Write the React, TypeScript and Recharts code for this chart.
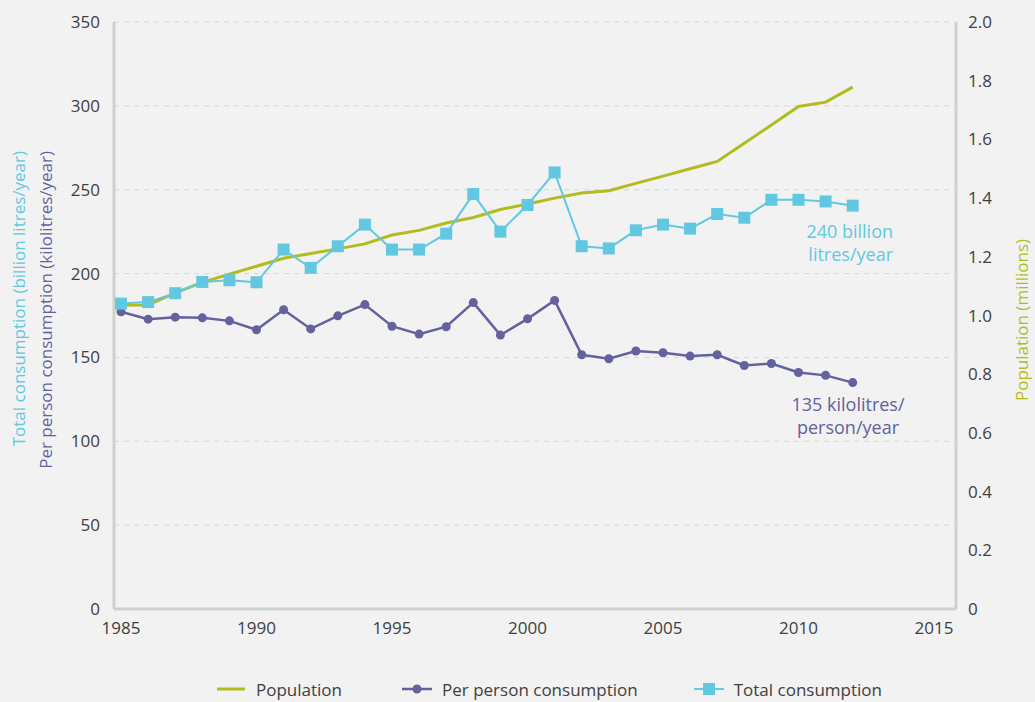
import { LineChart, Line, XAxis, YAxis, CartesianGrid, Legend } from 'recharts';

const years = [
    1985, 1986, 1987, 1988, 1989, 1990, 1991, 1992, 1993, 1994, 1995, 1996, 1997, 1998,
    1999, 2000, 2001, 2002, 2003, 2004, 2005, 2006, 2007, 2008, 2009, 2010, 2011, 2012,
];

// millions of people
const population = [
    1.035, 1.036, 1.077, 1.113, 1.141, 1.168, 1.195, 1.211, 1.227, 1.244, 1.274, 1.29, 1.315, 1.334,
    1.361, 1.38, 1.4, 1.417, 1.425, 1.45, 1.475, 1.5, 1.525, 1.587, 1.649, 1.712, 1.727, 1.778,
];

// kilolitres per person per year
const perPerson = [
    177.2, 172.8, 174, 173.6, 171.8, 166.5, 178.4, 167, 174.8, 181.5, 168.6, 163.9, 168.3, 182.7,
    163.3, 173, 184, 151.6, 149.2, 153.8, 152.8, 150.8, 151.6, 145.2, 146.4, 141, 139.3, 135,
];

// billion litres per year
const total = [
    182.1, 183, 188.3, 195, 196, 194.8, 214.3, 203.4, 216.3, 229.2, 214.3, 214.3, 223.8, 247.4,
    225, 240.9, 260.3, 216.3, 215, 225.8, 229.2, 226.8, 235.5, 233.3, 244, 244, 243, 240.5,
];

const xTicks = [1985, 1990, 1995, 2000, 2005, 2010, 2015];
const leftTicks = [0, 50, 100, 150, 200, 250, 300, 350];
const rightTicks = [0, 0.2, 0.4, 0.6, 0.8, 1.0, 1.2, 1.4, 1.6, 1.8, 2.0];

const data = years.map((year, i) => ({
    year,
    population: population[i],
    perPerson: perPerson[i],
    total: total[i],
}));

const OLIVE = '#b3bc1f';
const PURPLE = '#64619f';
const BLUE = '#62c8e2';
const AXIS = '#cdd2cd';
const TEXT = '#404040';
const FONT = '"Open Sans", "Noto Sans", sans-serif';

const SquareDot = (props: any) => {
    const { cx, cy, index } = props;
    if (cx == null || cy == null) return null;
    return <rect key={`sq-${index}`} x={cx - 6} y={cy - 6} width={12} height={12} fill={BLUE} />;
};

const LegendContent = () => (
    <div
        style={{
            height: 26,
            display: 'flex',
            justifyContent: 'center',
            alignItems: 'center',
            paddingLeft: 64,
            fontSize: 17,
            color: TEXT,
            fontFamily: FONT,
        }}
    >
        <svg width={28} height={14} style={{ marginRight: 11 }}>
            <line x1={0} y1={7} x2={28} y2={7} stroke={OLIVE} strokeWidth={3} />
        </svg>
        <span style={{ marginRight: 60 }}>Population</span>
        <svg width={30} height={14} style={{ marginRight: 10 }}>
            <line x1={0} y1={7} x2={30} y2={7} stroke={PURPLE} strokeWidth={2.5} />
            <circle cx={15} cy={7} r={4.5} fill={PURPLE} />
        </svg>
        <span style={{ marginRight: 56 }}>Per person consumption</span>
        <svg width={30} height={14} style={{ marginRight: 10 }}>
            <line x1={0} y1={7} x2={30} y2={7} stroke={BLUE} strokeWidth={2} />
            <rect x={9} y={1} width={12} height={12} fill={BLUE} />
        </svg>
        <span>Total consumption</span>
    </div>
);

export default function App() {
    return (
        <div
            style={{
                position: 'fixed',
                left: 0,
                top: 0,
                width: 1035,
                height: 702,
                background: '#f2f2f2',
                fontFamily: FONT,
            }}
        >
            <LineChart
                width={1035}
                height={702}
                data={data}
                margin={{ top: 22, right: 0, left: 0, bottom: 0 }}
                style={{ fontFamily: FONT }}
            >
                <CartesianGrid
                    yAxisId="left"
                    vertical={false}
                    stroke="#d6d6d6"
                    strokeDasharray="5 5"
                />
                <XAxis
                    dataKey="year"
                    type="number"
                    domain={[1985, 2015]}
                    ticks={xTicks}
                    padding={{ left: 7, right: 22 }}
                    height={67}
                    tickLine={false}
                    axisLine={{ stroke: AXIS, strokeWidth: 3 }}
                    tickMargin={7}
                    tick={{ fill: TEXT, fontSize: 17 }}
                />
                <YAxis
                    yAxisId="left"
                    width={114}
                    domain={[0, 350]}
                    ticks={leftTicks}
                    tickLine={false}
                    axisLine={{ stroke: AXIS, strokeWidth: 3 }}
                    tickMargin={8}
                    tick={{ fill: TEXT, fontSize: 17 }}
                />
                <YAxis
                    yAxisId="right"
                    orientation="right"
                    width={79}
                    domain={[0, 2]}
                    ticks={rightTicks}
                    tickLine={false}
                    axisLine={{ stroke: AXIS, strokeWidth: 3 }}
                    tickMargin={6}
                    tick={{ fill: TEXT, fontSize: 17 }}
                    tickFormatter={(v: number) => (v === 0 ? '0' : v.toFixed(1))}
                />
                <Legend verticalAlign="bottom" height={26} content={<LegendContent />} />
                <Line
                    yAxisId="right"
                    type="linear"
                    dataKey="population"
                    stroke={OLIVE}
                    strokeWidth={3}
                    dot={false}
                    isAnimationActive={false}
                />
                <Line
                    yAxisId="left"
                    type="linear"
                    dataKey="perPerson"
                    stroke={PURPLE}
                    strokeWidth={2.5}
                    dot={{ r: 4.5, fill: PURPLE, stroke: PURPLE, strokeWidth: 0 }}
                    isAnimationActive={false}
                />
                <Line
                    yAxisId="left"
                    type="linear"
                    dataKey="total"
                    stroke={BLUE}
                    strokeWidth={2}
                    dot={<SquareDot />}
                    isAnimationActive={false}
                />
            </LineChart>
            <svg
                width={1035}
                height={702}
                style={{ position: 'absolute', left: 0, top: 0, pointerEvents: 'none' }}
            >
                <text
                    transform="translate(25,151) rotate(-90)"
                    textAnchor="end"
                    fill={BLUE}
                    fontSize={17}
                    fontFamily={FONT}
                >
                    Total consumption (billion litres/year)
                </text>
                <text
                    transform="translate(52,151) rotate(-90)"
                    textAnchor="end"
                    fill={PURPLE}
                    fontSize={17}
                    fontFamily={FONT}
                >
                    Per person consumption (kilolitres/year)
                </text>
                <text
                    transform="translate(1028,320) rotate(-90)"
                    textAnchor="middle"
                    fill={OLIVE}
                    fontSize={17}
                    fontFamily={FONT}
                >
                    Population (millions)
                </text>
                <text textAnchor="end" fill={BLUE} fontSize={18} fontFamily={FONT}>
                    <tspan x={893} y={238}>240 billion</tspan>
                    <tspan x={893} y={261}>litres/year</tspan>
                </text>
                <text textAnchor="middle" fill={PURPLE} fontSize={18} fontFamily={FONT}>
                    <tspan x={848} y={411}>135 kilolitres/</tspan>
                    <tspan x={848} y={434}>person/year</tspan>
                </text>
            </svg>
        </div>
    );
}
